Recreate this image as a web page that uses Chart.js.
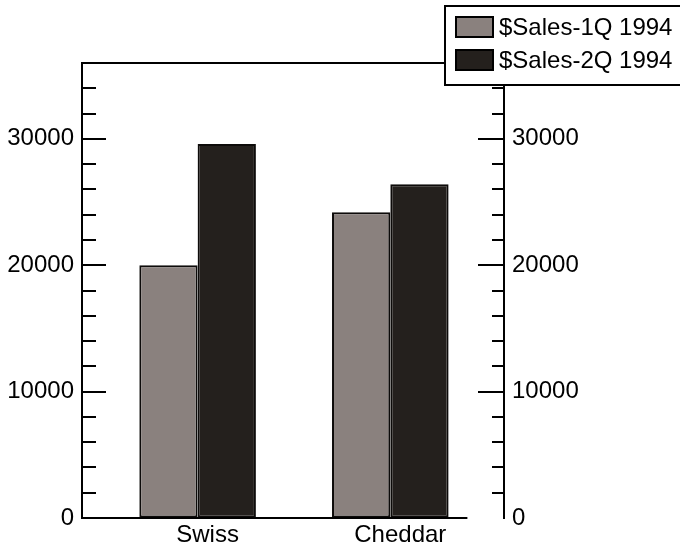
<!DOCTYPE html>
<html>
<head>
<meta charset="utf-8">
<script src="https://cdn.jsdelivr.net/npm/chart.js@4.4.0/dist/chart.umd.min.js"></script>
<style>
  html, body { margin: 0; padding: 0; background: #fff; }
  #wrap { width: 680px; height: 545px; }
</style>
</head>
<body>
<div id="wrap"><canvas id="cheeseChart"></canvas></div>
<script>
// data
const CATEGORIES = ["Swiss", "Cheddar"];
const SERIES_LABELS = ["$Sales-1Q 1994", "$Sales-2Q 1994"];
const SALES_1Q = [20000, 24200];
const SALES_2Q = [29600, 26400];
const Y_MAX = 36000;
const Y_MINOR_STEP = 2000;
const Y_LABEL_STEP = 10000;

const FILL_1Q = "#8a817e";
const FILL_2Q = "#24201d";
const INK = "#000";

Chart.defaults.font.family = "'Liberation Sans', Arial, Helvetica, sans-serif";
Chart.defaults.font.size = 24;
Chart.defaults.color = INK;

// linear x so the bar pairs sit where the original has them
const toPoints = (values) => values.map((v, i) => ({ x: i, y: v }));

// inward tick marks + top line + baseline
const frameAndTicks = {
  id: "frameAndTicks",
  afterDatasetsDraw(chart) {
    const { ctx, chartArea: a, scales } = chart;
    ctx.save();
    ctx.strokeStyle = INK;
    ctx.lineWidth = 2;

    ctx.beginPath();
    ctx.moveTo(a.left, a.top);
    ctx.lineTo(a.right, a.top);
    ctx.stroke();

    // baseline stops short of the right axis
    ctx.beginPath();
    ctx.moveTo(a.left, a.bottom);
    ctx.lineTo(scales.x.getPixelForValue(1.4), a.bottom);
    ctx.stroke();

    const sides = [
      { id: "y", x0: a.left, dir: 1, major: 24, minor: 14 },
      { id: "y2", x0: a.right, dir: -1, major: 26, minor: 12 },
    ];
    sides.forEach((side) => {
      const s = scales[side.id];
      s.ticks.forEach((t) => {
        if (t.value <= 0 || t.value >= Y_MAX) return;
        const y = Math.round(s.getPixelForValue(t.value));
        const len = t.value % Y_LABEL_STEP === 0 ? side.major : side.minor;
        ctx.beginPath();
        ctx.moveTo(side.x0, y);
        ctx.lineTo(side.x0 + side.dir * len, y);
        ctx.stroke();
      });
    });
    ctx.restore();
  },
};

// boxed legend in the top right corner, drawn over the frame
const boxedLegend = {
  id: "boxedLegend",
  afterDraw(chart) {
    const { ctx } = chart;
    const left = 445, top = 6, bottom = 85;
    ctx.save();
    ctx.fillStyle = "#fff";
    ctx.fillRect(left, top, 700 - left, bottom - top);
    ctx.strokeStyle = INK;
    ctx.lineWidth = 2;
    ctx.strokeRect(left, top, 700 - left, bottom - top);

    ctx.font = "24px " + Chart.defaults.font.family;
    ctx.textBaseline = "middle";
    chart.data.datasets.forEach((ds, i) => {
      const rowY = 17 + i * 33;
      ctx.fillStyle = ds.backgroundColor;
      ctx.fillRect(456, rowY, 37, 20);
      ctx.strokeRect(456, rowY, 37, 20);
      ctx.fillStyle = INK;
      ctx.fillText(ds.label, 499, rowY + 11);
    });
    ctx.restore();
  },
};

const yAxis = (position, width) => ({
  type: "linear",
  position,
  min: 0,
  max: Y_MAX,
  grid: { drawOnChartArea: false, drawTicks: false },
  border: { display: true, color: INK, width: 2 },
  ticks: {
    stepSize: Y_MINOR_STEP,
    autoSkip: false,
    padding: 8,
    callback: (v) => (v % Y_LABEL_STEP === 0 && v < Y_MAX ? String(v) : ""),
  },
  afterFit: (scale) => { scale.width = width; },
});

new Chart(document.getElementById("cheeseChart"), {
  type: "bar",
  data: {
    datasets: [
      {
        label: SERIES_LABELS[0],
        data: toPoints(SALES_1Q),
        backgroundColor: FILL_1Q,
        borderColor: "#0d0b0a",
        borderWidth: 2,
        borderSkipped: false,
      },
      {
        label: SERIES_LABELS[1],
        data: toPoints(SALES_2Q),
        backgroundColor: FILL_2Q,
        borderColor: "#0d0b0a",
        borderWidth: 2,
        borderSkipped: false,
      },
    ],
  },
  options: {
    responsive: true,
    maintainAspectRatio: false,
    animation: false,
    categoryPercentage: 0.605,
    barPercentage: 1,
    layout: { padding: { top: 63, left: 0, right: 0, bottom: 0 } },
    plugins: {
      legend: { display: false },
      tooltip: { enabled: false },
    },
    scales: {
      x: {
        type: "linear",
        offset: false,
        bounds: "data",
        min: -0.6,
        max: 1.59,
        grid: { offset: false, drawOnChartArea: false, drawTicks: false },
        border: { display: false },
        // one tick per category
        afterBuildTicks: (scale) => {
          scale.ticks = CATEGORIES.map((_, i) => ({ value: i }));
        },
        ticks: {
          autoSkip: false,
          maxRotation: 0,
          padding: 7,
          labelOffset: 10,
          font: { size: 24, lineHeight: "21px" },
          callback: (v) => CATEGORIES[Math.round(v)] ?? "",
        },
        afterFit: (scale) => { scale.height = 27; },
      },
      y: yAxis("left", 82),
      y2: yAxis("right", 176),
    },
  },
  plugins: [frameAndTicks, boxedLegend],
});
</script>
</body>
</html>
